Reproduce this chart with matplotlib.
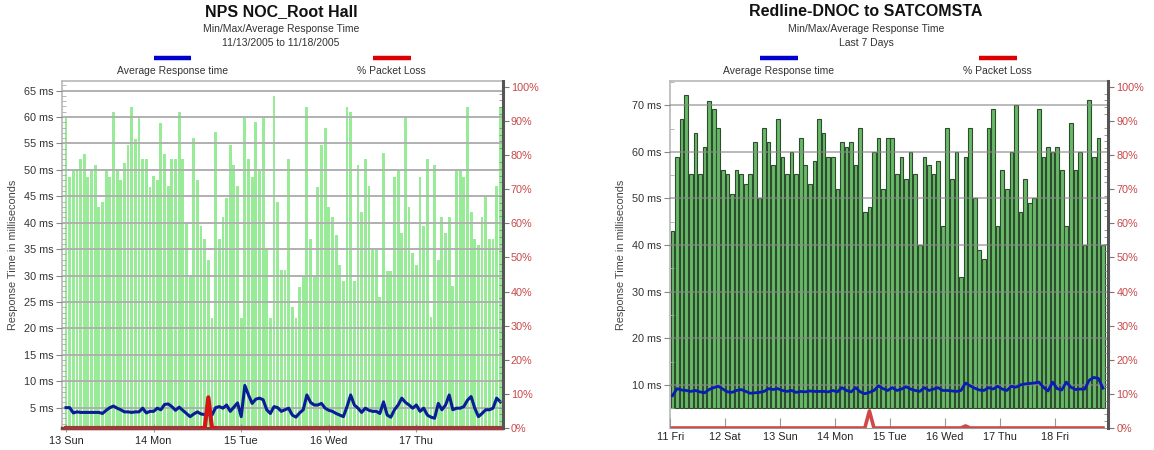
import matplotlib
matplotlib.use("Agg")
import matplotlib.pyplot as plt
from matplotlib.lines import Line2D
from matplotlib.ticker import MultipleLocator, FixedLocator, FuncFormatter

plt.rcParams['font.family'] = ['Liberation Sans', 'DejaVu Sans']

# ---------------- NPS NOC_Root Hall (hourly samples, 13 Sun .. 17 Thu) ----------------
root_days = ["13 Sun", "14 Mon", "15 Tue", "16 Wed", "17 Thu"]
root_min_ms = 1.6
root_max_ms = [
    60, 48.7, 50, 50, 52, 53, 48.7, 49.7, 51, 43, 43.9, 50, 48.7, 61, 50, 48.1,
    51.2, 54.7, 61.8, 55.8, 60, 52, 52, 46.8, 48.8, 48.1, 58.8, 53, 47, 52, 52, 61,
    52, 39.9, 29.8, 56, 48.1, 39.3, 36.9, 33, 21.9, 57.2, 37, 41, 44.6, 54.7, 51, 47,
    22, 59.8, 52, 48.7, 59, 50, 59.8, 34.8, 22, 63.9, 44, 31, 31, 52, 24, 21.9,
    27.9, 29.8, 61.8, 37, 29.8, 46.8, 54.7, 57.9, 43, 41, 37.7, 32, 29, 61.8, 61, 29,
    51, 42.1, 52, 47, 34.8, 34.8, 26, 53.1, 30.8, 30.8, 48.7, 50, 38, 59.8, 43, 34.2,
    32, 48.7, 39.3, 52, 22.2, 51, 33, 41, 38, 41, 28, 50, 50, 48.7, 61.8, 42,
    37, 35.8, 41, 45, 37, 37, 47, 61.8,
]
root_avg_ms = [
    5.0, 5.0, 4.0, 4.2, 4.1, 4.1, 4.1, 4.1, 4.1, 4.1, 3.9, 4.5, 5.0, 5.3, 4.9, 4.6,
    4.2, 4.2, 4.1, 4.2, 4.2, 4.9, 4.0, 4.3, 4.3, 4.9, 4.6, 5.6, 5.7, 5.2, 4.5, 5.1,
    4.5, 3.9, 3.3, 3.8, 4.2, 3.8, 3.7, 3.7, 3.6, 5.0, 5.2, 4.9, 5.5, 4.3, 5.1, 5.9,
    3.3, 9.2, 7.4, 5.8, 6.6, 6.8, 6.5, 4.6, 3.9, 5.2, 5.0, 4.3, 4.6, 4.9, 3.6, 3.2,
    4.0, 4.6, 7.4, 6.0, 5.5, 5.5, 5.8, 4.9, 4.5, 4.3, 3.9, 3.6, 3.3, 5.2, 7.4, 5.5,
    4.9, 4.1, 4.9, 4.5, 4.3, 4.3, 3.9, 6.1, 3.6, 3.2, 4.6, 5.5, 6.8, 6.0, 5.5, 4.9,
    5.5, 4.3, 4.9, 3.6, 3.2, 3.0, 5.8, 4.6, 5.5, 7.4, 4.6, 4.9, 4.9, 5.2, 6.4, 7.1,
    4.9, 3.3, 3.9, 4.6, 4.6, 4.9, 6.8, 6.1,
]
root_loss_pct = [0] * 120
root_loss_pct[39] = 9

# ---------------- Redline-DNOC to SATCOMSTA (2-hour samples, 11 Fri .. 18 Fri) ----------------
dnoc_days = ["11 Fri", "12 Sat", "13 Sun", "14 Mon", "15 Tue", "16 Wed", "17 Thu", "18 Fri"]
dnoc_min_ms = 5.0
dnoc_max_ms = [
    43.1, 59, 67.1, 72.1, 55.2, 64.1, 55.2, 61, 71, 69.1, 65.1, 56.1, 55.2, 50.9, 56.1, 55.2,
    53.1, 55.2, 62.1, 50.1, 65.1, 62.1, 57.1, 67.1, 59, 55.2, 60, 55.2, 63, 57.1, 53.1, 58.1,
    67.1, 64.1, 59, 59, 52.1, 62.1, 61.1, 62.1, 57.1, 65.1, 47.1, 48.2, 60, 63, 52.1, 63,
    63, 55.2, 59, 54.1, 60, 55.2, 40, 59, 57.1, 55.2, 58.1, 44.1, 65.1, 54.1, 60, 33.1,
    59, 65.1, 50, 39, 37.1, 65.1, 69.1, 44.1, 56.1, 52.1, 60, 70, 47.1, 54.1, 49, 50,
    69.1, 59, 61.1, 60, 61.1, 56.1, 44.1, 66.1, 56.1, 60, 40, 71.1, 59, 63, 40,
]
dnoc_avg_ms = [
    7.7, 9.2, 8.9, 8.8, 8.6, 8.8, 8.5, 8.3, 9.0, 9.4, 9.7, 9.1, 8.5, 8.4, 8.8, 9.0,
    8.6, 8.2, 8.3, 8.4, 8.6, 9.2, 9.0, 9.2, 8.8, 8.6, 8.8, 8.4, 8.6, 8.5, 8.7, 8.6,
    8.6, 8.6, 8.5, 8.8, 8.5, 9.4, 8.8, 8.5, 9.4, 8.5, 8.1, 8.4, 8.8, 9.8, 9.2, 8.8,
    9.4, 8.8, 9.1, 9.6, 9.1, 8.8, 8.6, 9.4, 8.8, 9.1, 9.4, 8.8, 8.8, 8.7, 8.6, 8.8,
    10.4, 9.8, 9.3, 8.9, 8.8, 9.4, 9.1, 9.7, 9.1, 8.8, 9.7, 9.5, 10.0, 10.2, 10.3, 10.4,
    10.6, 9.5, 8.7, 10.6, 9.2, 8.9, 10.6, 9.5, 9.0, 9.1, 9.1, 11.0, 11.6, 11.4, 9.3,
]
dnoc_loss_pct = [0] * 95
dnoc_loss_pct[43] = 5
dnoc_loss_pct[64] = 0.6

W, H = 1154, 450
fig = plt.figure(figsize=(W / 100, H / 100), dpi=100)


def px_rect(x0, y0, x1, y1):
    return [x0 / W, 1 - y1 / H, (x1 - x0) / W, (y1 - y0) / H]


def header(cx, title, sub1, sub2, blue_x, red_x):
    fig.text(cx / W, 1 - 12 / H, title, ha="center", va="center",
             fontsize=11.5, fontweight="bold", color="#111111")
    fig.text(cx / W, 1 - 29 / H, sub1, ha="center", va="center", fontsize=7.5, color="#333333")
    fig.text(cx / W, 1 - 43 / H, sub2, ha="center", va="center", fontsize=7.5, color="#333333")
    for sx, col, lab in ((blue_x, "#0000cc", "Average Response time"),
                         (red_x, "#dd0000", "% Packet Loss")):
        fig.add_artist(Line2D([(sx - 19) / W, (sx + 19) / W], [1 - 58 / H, 1 - 58 / H],
                              transform=fig.transFigure, color=col, lw=3.2,
                              solid_capstyle="butt"))
        fig.text(sx / W, 1 - 71 / H, lab, ha="center", va="center", fontsize=7.5, color="#333333")


def style_axes(ax, ax2, right_col):
    for s in ("top", "left"):
        ax.spines[s].set_color("#b8b8b8")
        ax.spines[s].set_linewidth(1.2)
    ax.spines["bottom"].set_color("#9a9a9a")
    ax.spines["right"].set_visible(False)
    for s in ("top", "left", "bottom"):
        ax2.spines[s].set_visible(False)
    ax2.spines["right"].set_color("#555555")
    ax2.spines["right"].set_linewidth(2.2)
    ax.tick_params(axis="y", which="major", direction="out", length=4, color="#888888",
                   labelsize=7.8, labelcolor="#333333", pad=2)
    ax.tick_params(axis="y", which="minor", direction="in", length=3, color="#aaaaaa")
    ax.tick_params(axis="x", which="major", direction="inout", length=6, color="#999999",
                   labelsize=7.8, labelcolor="#222222", pad=3)
    ax2.tick_params(axis="y", which="major", direction="out", length=4, color="#777777",
                    labelsize=7.8, labelcolor=right_col, pad=2)
    ax2.tick_params(axis="y", which="minor", direction="in", length=3, color="#888888")
    ax2.set_ylim(0, 101.7)
    ax2.yaxis.set_major_locator(FixedLocator(range(0, 101, 10)))
    ax2.yaxis.set_minor_locator(MultipleLocator(2))
    ax2.yaxis.set_major_formatter(FuncFormatter(lambda v, p: f"{int(round(v))}%"))
    ax.set_ylabel("Response Time in milliseconds", fontsize=7.8, color="#444444", labelpad=4)


# ---- left panel ----
header(281, "NPS NOC_Root Hall", "Min/Max/Average Response Time",
       "11/13/2005 to 11/18/2005", 172.5, 391.5)
axL = fig.add_axes(px_rect(62, 81, 502.5, 428))
hours = list(range(len(root_max_ms)))
axL.bar(hours, [m - root_min_ms for m in root_max_ms], bottom=root_min_ms, width=0.78,
        color="#98ec98", edgecolor="none", zorder=1)
axL.plot(hours, root_avg_ms, color="#0a1c96", lw=2.2, zorder=4, solid_joinstyle="round")
axL.set_xlim(-1.1, 119.6)
axL.set_ylim(1.15, 66.8)
axL.set_axisbelow(False)
axL.yaxis.set_major_locator(FixedLocator(range(5, 66, 5)))
axL.yaxis.set_minor_locator(MultipleLocator(1))
axL.yaxis.set_major_formatter(FuncFormatter(lambda v, p: f"{int(v)} ms"))
axL.yaxis.grid(True, which="major", color="#b0b0b0", lw=1.4)
axL.set_xticks([24 * i for i in range(len(root_days))])
axL.set_xticklabels(root_days)
axL2 = axL.twinx()
axL2.plot(hours, root_loss_pct, color="#9b3a3a", lw=3.0, zorder=3, clip_on=False)
axL2.plot(hours[37:42], root_loss_pct[37:42], color="#e01010", lw=2.2, zorder=4)
style_axes(axL, axL2, "#c84848")
axL.spines["bottom"].set_color("#8c3a3a")
axL.spines["bottom"].set_linewidth(2.5)
axL.yaxis.set_label_coords(-0.1, 0.5)

# ---- right panel ----
header(866, "Redline-DNOC to SATCOMSTA", "Min/Max/Average Response Time",
       "Last 7 Days", 778.5, 997.5)
axR = fig.add_axes(px_rect(669.5, 81, 1108, 428))
slots = [i + 0.5 for i in range(len(dnoc_max_ms))]
axR.bar(slots, [m - dnoc_min_ms for m in dnoc_max_ms], bottom=dnoc_min_ms, width=0.8,
        color="#68b868", edgecolor="#2e4d2e", lw=0.8, zorder=1)
axR.plot(slots, dnoc_avg_ms, color="#0a1cb4", lw=2.0, zorder=4, solid_joinstyle="round")
axR.set_xlim(-0.15, 95.6)
axR.set_ylim(0.75, 75.2)
axR.set_axisbelow(False)
axR.yaxis.set_major_locator(FixedLocator(range(10, 71, 10)))
axR.yaxis.set_minor_locator(MultipleLocator(5))
axR.yaxis.set_major_formatter(FuncFormatter(lambda v, p: f"{int(v)} ms"))
axR.yaxis.grid(True, which="major", color="#8a8a8a", lw=1.1, alpha=0.75)
axR.set_xticks([12 * i for i in range(len(dnoc_days))])
axR.set_xticklabels(dnoc_days)
axR2 = axR.twinx()
axR2.plot(slots, dnoc_loss_pct, color="#d04848", lw=2.6, zorder=3)
style_axes(axR, axR2, "#c84848")
axR.tick_params(axis="x", which="major", direction="in", length=7)
axR.yaxis.set_label_coords(-0.1, 0.5)

fig.savefig("out.png", dpi=100, facecolor="white")
